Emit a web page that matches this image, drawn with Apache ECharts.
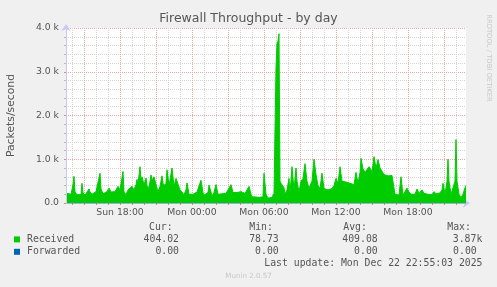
<!DOCTYPE html>
<html><head><meta charset="utf-8">
<script src="https://cdn.jsdelivr.net/npm/echarts@6/dist/echarts.min.js"></script>
<style>html,body{margin:0;padding:0;background:#f0f0f0;}#c{width:497px;height:287px;}</style>
</head><body><div id="c"></div>
<script>
// minutes since Sun 00:00
const times = [815,825,835,845,850,855,865,875,885,890,895,905,915,925,930,940,950,960,970,980,985,995,1005,1015,1025,1035,1045,1055,1060,1070,1080,1090,1095,1100,1110,1120,1130,1140,1150,1160,1165,1170,1180,1185,1190,1200,1210,1215,1225,1235,1240,1250,1260,1270,1280,1290,1295,1305,1310,1315,1325,1335,1340,1350,1360,1370,1380,1390,1400,1410,1415,1425,1435,1445,1455,1465,1475,1485,1495,1500,1510,1520,1525,1535,1540,1550,1560,1570,1580,1590,1600,1610,1620,1635,1645,1655,1665,1675,1685,1695,1705,1715,1725,1735,1740,1755,1765,1775,1785,1795,1800,1805,1810,1820,1830,1840,1850,1855,1860,1865,1870,1875,1880,1885,1895,1900,1905,1915,1925,1930,1940,1950,1960,1965,1975,1985,1995,2005,2015,2025,2035,2040,2050,2060,2070,2080,2090,2100,2110,2120,2130,2140,2150,2160,2170,2180,2190,2200,2210,2220,2230,2240,2250,2260,2270,2280,2285,2295,2305,2315,2325,2335,2340,2350,2360,2370,2380,2390,2400,2410,2420,2430,2440,2450,2455,2465,2475,2485,2495,2505,2515,2525,2535,2545,2555,2565,2575,2585,2590,2600,2610,2620,2630,2640,2650,2660,2670,2680,2690,2695,2705,2715,2720,2725,2735,2745,2755,2760,2765,2775,2785,2795,2805,2810];
const received = [220,240,200,420,610,250,190,210,190,450,230,180,200,320,250,200,190,260,300,680,320,210,230,260,340,250,280,260,300,380,300,330,720,250,190,300,330,380,300,420,540,430,830,500,600,420,570,400,350,640,520,600,420,260,380,620,450,400,450,760,400,380,800,380,560,560,300,250,190,300,460,200,220,200,230,250,220,520,230,180,200,240,410,250,150,240,420,200,180,210,180,220,250,420,240,220,240,240,260,260,220,260,380,200,140,140,110,130,110,140,680,700,200,110,110,130,220,200,3100,3650,3700,3870,500,450,450,350,200,300,560,200,830,300,800,500,250,500,560,900,500,340,380,500,1000,650,400,330,680,330,300,300,280,330,400,560,450,830,500,460,480,500,450,480,420,700,450,700,1020,780,700,740,830,760,700,1060,800,990,800,760,650,680,620,660,630,620,200,200,180,600,180,200,340,250,200,220,200,320,220,230,300,220,250,200,220,190,260,210,250,230,300,450,200,500,1000,500,200,170,500,1450,500,200,120,200,350,400];
const forwardedTimes = [815, 2810];
const forwarded = [0, 0];
const hourTicks = [840,900,960,1020,1080,1140,1200,1260,1320,1380,1440,1500,1560,1620,1680,1740,1800,1860,1920,1980,2040,2100,2160,2220,2280,2340,2400,2460,2520,2580,2640,2700,2760];
const majorTicks = [900,1080,1260,1440,1620,1800,1980,2160,2340,2520,2700];
const labelTicks = [1080,1440,1800,2160,2520];
const seriesNames = ['Received', 'Forwarded'];
const statHeaders = ['Cur:', 'Min:', 'Avg:', 'Max:'];
const receivedStats = ['404.02', '78.73', '409.08', '3.87k'];
const forwardedStats = ['0.00', '0.00', '0.00', '0.00'];
const titleText = 'Firewall Throughput - by day';
const yName = 'Packets/second';
const lastUpdate = 'Last update: Mon Dec 22 22:55:03 2025';
const footer = 'Munin 2.0.57';
const sideText = 'RRDTOOL / TOBI OETIKER';

const chart = echarts.init(document.getElementById('c'), null, {renderer: 'canvas'});
const mono = '9.8px "DejaVu Sans Mono"';
const fmtTime = m => {
  const d = m < 1440 ? 'Sun' : 'Mon';
  const mm = m % 1440;
  const h = Math.floor(mm / 60), mi = mm % 60;
  return d + ' ' + String(h).padStart(2, '0') + ':' + String(mi).padStart(2, '0');
};
const headerX = [149, 249.3, 343.3, 447.3];
const valRight = [[179, 278.7, 377.7, 482.3], [179, 278.7, 377.7, 476.7]];
const gfx = [];
statHeaders.forEach((t, i) => gfx.push({type: 'text', x: headerX[i], y: 227.3, style: {text: t, font: mono, fill: '#555', textAlign: 'left', align: 'left', textVerticalAlign: 'middle', verticalAlign: 'middle'}}));
[receivedStats, forwardedStats].forEach((row, r) => row.forEach((t, i) => gfx.push({type: 'text', x: valRight[r][i], y: 239.5 + r * 12.4, style: {text: t, font: mono, fill: '#555', textAlign: 'right', align: 'right', textVerticalAlign: 'middle', verticalAlign: 'middle'}})));
gfx.push({type: 'text', x: 482.5, y: 263.3, style: {text: lastUpdate, font: mono, fill: '#555', textAlign: 'right', align: 'right', textVerticalAlign: 'middle', verticalAlign: 'middle'}});
gfx.push({type: 'text', x: 248.5, y: 276, style: {text: footer, font: '7.1px "DejaVu Sans"', fill: '#c8c8c8', textAlign: 'center', align: 'center', textVerticalAlign: 'middle', verticalAlign: 'middle'}});
gfx.push({type: 'text', x: 488.3, y: 58, rotation: -Math.PI / 2, style: {text: sideText, font: '6.8px "DejaVu Sans"', fill: '#c8c8c8', textAlign: 'center', align: 'center', textVerticalAlign: 'middle', verticalAlign: 'middle'}});

const axisBlue = '#c8c8f4';
const red = '#e8a8a8';
const gray = '#d4d4d4';
chart.setOption({
  animation: false,
  backgroundColor: '#f0f0f0',
  title: {text: titleText, left: 'center', top: 12.5, padding: 0, textStyle: {fontFamily: 'DejaVu Sans', fontSize: 12.5, fontWeight: 'normal', color: '#555'}},
  grid: {left: 66, right: 31, top: 28, bottom: 84, show: true, backgroundColor: '#fff', borderWidth: 0, containLabel: false, outerBoundsMode: 'none'},
  legend: {
    data: seriesNames, orient: 'vertical', left: 14, top: 233.2, padding: 0, itemGap: 0,
    itemWidth: 6, itemHeight: 6, icon: 'rect', selectedMode: false,
    textStyle: {fontFamily: 'DejaVu Sans Mono', fontSize: 9.8, color: '#555', lineHeight: 12.4, padding: [0, 0, 0, 2]}
  },
  xAxis: [{
    type: 'value', min: 810, max: 2810, gridIndex: 0,
    axisLine: {lineStyle: {color: axisBlue}, symbol: ['none', 'arrow'], symbolSize: [7, 7], symbolOffset: [0, 4]},
    axisTick: {show: true, customValues: hourTicks, length: 2, lineStyle: {color: '#f08080'}},
    axisLabel: {customValues: labelTicks, formatter: v => fmtTime(v), fontFamily: 'DejaVu Sans', fontSize: 9.3, color: '#555', margin: 5},
    splitLine: {show: true, lineStyle: {color: gray, type: [1, 1], width: 1}}
  }, {
    type: 'value', min: 810, max: 2810, gridIndex: 0, position: 'bottom',
    axisLine: {show: false}, axisLabel: {show: false},
    axisTick: {show: false, customValues: majorTicks},
    splitLine: {show: true, lineStyle: {color: red, type: [1, 1], width: 1}}
  }],
  yAxis: {
    type: 'value', min: 0, max: 4000, interval: 1000,
    name: yName, nameLocation: 'middle', nameGap: 49.5,
    nameTextStyle: {fontFamily: 'DejaVu Sans', fontSize: 10.8, color: '#555'},
    axisLine: {show: true, lineStyle: {color: axisBlue}, symbol: ['none', 'arrow'], symbolSize: [7, 7], symbolOffset: [0, 4]},
    axisTick: {show: true, length: 2, lineStyle: {color: '#f08080'}},
    minorTick: {show: true, splitNumber: 5, length: 2, lineStyle: {color: '#bbb'}},
    axisLabel: {formatter: v => v === 0 ? '0.0' : (v / 1000).toFixed(1) + ' k', fontFamily: 'DejaVu Sans', fontSize: 9.3, color: '#555', margin: 7},
    splitLine: {show: true, lineStyle: {color: red, type: [1, 1], width: 1}},
    minorSplitLine: {show: true, lineStyle: {color: gray, type: [1, 1], width: 1}}
  },
  series: [{
    name: 'Forwarded', type: 'line', xAxisIndex: 0, z: 1, showSymbol: false, symbol: 'none',
    data: forwardedTimes.map((t, i) => [t, forwarded[i]]),
    itemStyle: {color: '#0066b3'}, lineStyle: {width: 1, color: '#0066b3'}
  }, {
    name: 'Received', type: 'line', xAxisIndex: 0, z: 3, showSymbol: false, symbol: 'none', sampling: 'none',
    data: times.map((t, i) => [t, received[i]]),
    itemStyle: {color: '#00cc00'}, lineStyle: {width: 1, color: '#00cc00'},
    areaStyle: {color: '#00cc00', opacity: 1}
  }],
  graphic: gfx
});
</script>
</body></html>
